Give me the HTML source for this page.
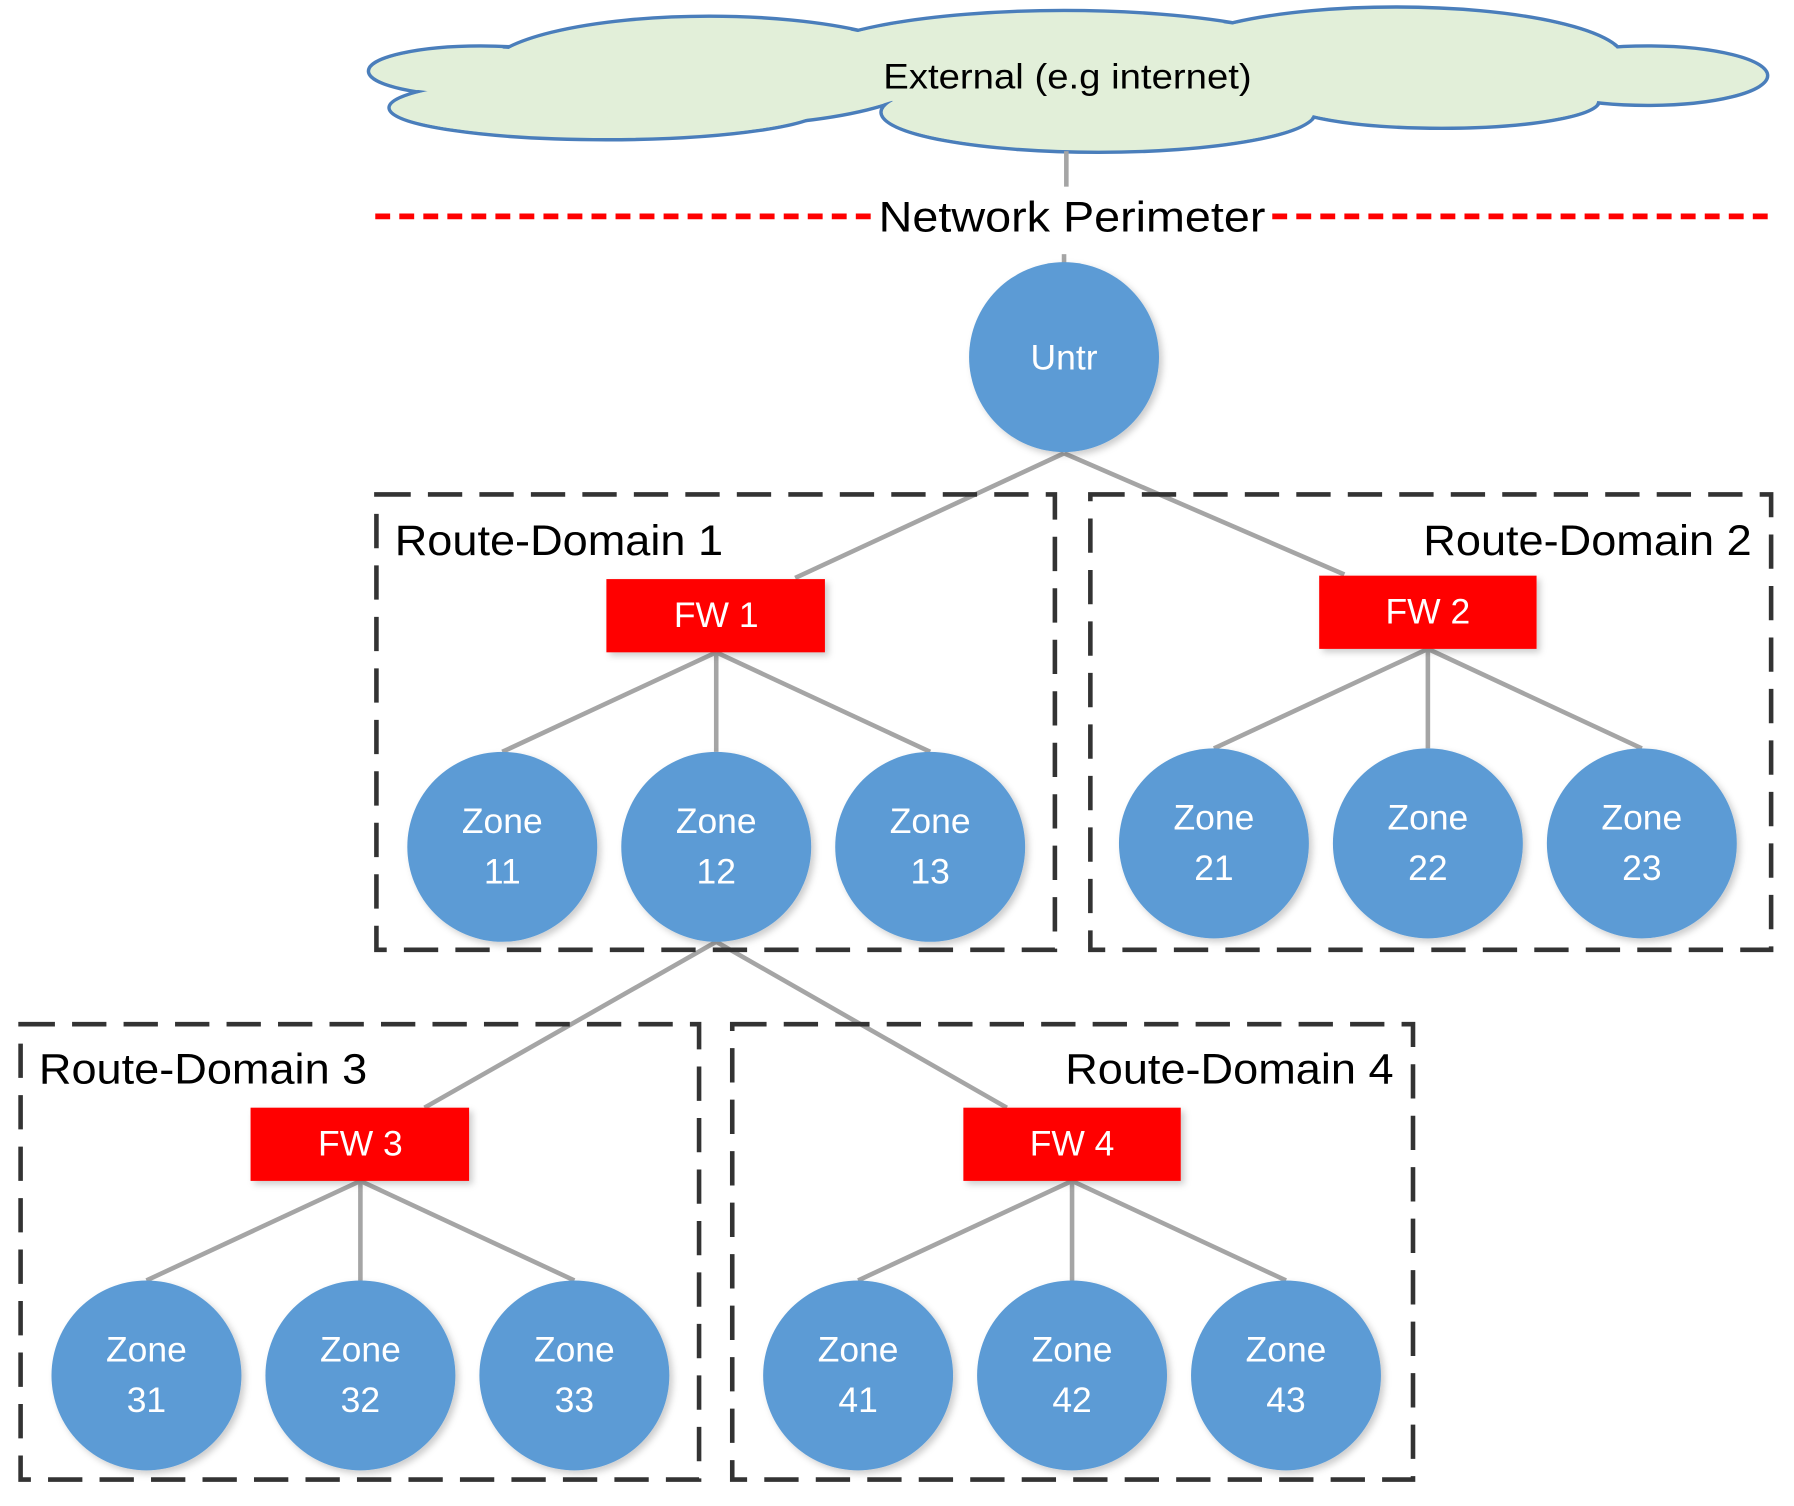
<!DOCTYPE html>
<html><head><meta charset="utf-8"><style>
html,body{margin:0;padding:0;background:#fff;}
svg{display:block;}
text{font-family:"Liberation Sans",sans-serif;}
</style></head><body>
<svg width="1794" height="1506" viewBox="0 0 1568 1316" xmlns="http://www.w3.org/2000/svg">
<defs>
<filter id="sh" x="-20%" y="-20%" width="140%" height="140%"><feDropShadow dx="3" dy="3" stdDeviation="3" flood-color="#000" flood-opacity="0.2"/></filter>
</defs>
<g stroke="#4a7ebb" stroke-width="3" fill="#e2efd9">
<ellipse cx="420" cy="62" rx="98" ry="22"/>
<ellipse cx="530" cy="94" rx="190" ry="28"/>
<ellipse cx="620" cy="62" rx="195" ry="48"/>
<ellipse cx="930" cy="55" rx="230" ry="46"/>
<ellipse cx="960" cy="98" rx="190" ry="35"/>
<ellipse cx="1220" cy="52" rx="200" ry="46"/>
<ellipse cx="1260" cy="88" rx="138" ry="24"/>
<ellipse cx="1440" cy="66" rx="105" ry="26"/>
</g>
<g fill="#e2efd9">
<ellipse cx="420" cy="62" rx="96" ry="20"/>
<ellipse cx="530" cy="94" rx="188" ry="26"/>
<ellipse cx="620" cy="62" rx="193" ry="46"/>
<ellipse cx="930" cy="55" rx="228" ry="44"/>
<ellipse cx="960" cy="98" rx="188" ry="33"/>
<ellipse cx="1220" cy="52" rx="198" ry="44"/>
<ellipse cx="1260" cy="88" rx="136" ry="22"/>
<ellipse cx="1440" cy="66" rx="103" ry="24"/>
</g>
<text x="772" y="77" font-size="31" textLength="322" lengthAdjust="spacingAndGlyphs" fill="#000">External (e.g internet)</text>
<line x1="328" y1="189" x2="764" y2="189" stroke="#f00" stroke-width="5" stroke-dasharray="13 8"/>
<line x1="1112" y1="189" x2="1548" y2="189" stroke="#f00" stroke-width="5" stroke-dasharray="13 8"/>
<text x="768" y="202" font-size="37" textLength="338" lengthAdjust="spacingAndGlyphs" fill="#000">Network Perimeter</text>
<g stroke="#a5a5a5" stroke-width="4" fill="none">
<line x1="932" y1="132" x2="932" y2="163"/>
<line x1="930" y1="222" x2="930" y2="256"/>
<line x1="930" y1="396" x2="695" y2="505"/>
<line x1="930" y1="396" x2="1175" y2="502"/>
<line x1="626" y1="570" x2="439" y2="657"/><line x1="626" y1="570" x2="626" y2="657"/><line x1="626" y1="570" x2="813" y2="657"/>
<line x1="1248" y1="567" x2="1061" y2="654"/><line x1="1248" y1="567" x2="1248" y2="654"/><line x1="1248" y1="567" x2="1435" y2="654"/>
<line x1="626" y1="823" x2="371" y2="968"/><line x1="626" y1="823" x2="880" y2="968"/>
<line x1="315" y1="1032" x2="128" y2="1119"/><line x1="315" y1="1032" x2="315" y2="1119"/><line x1="315" y1="1032" x2="502" y2="1119"/>
<line x1="937" y1="1032" x2="750" y2="1119"/><line x1="937" y1="1032" x2="937" y2="1119"/><line x1="937" y1="1032" x2="1124" y2="1119"/>
</g>
<g stroke="#333" stroke-width="4" fill="none" stroke-dasharray="30 15">
<rect x="329" y="432" width="593" height="398"/>
<rect x="953" y="432" width="595" height="398"/>
<rect x="18" y="895" width="593" height="398"/>
<rect x="640" y="895" width="595" height="398"/>
</g>
<g font-size="37" fill="#000">
<text x="345" y="485" textLength="287" lengthAdjust="spacingAndGlyphs">Route-Domain 1</text>
<text x="1244" y="485" textLength="287" lengthAdjust="spacingAndGlyphs">Route-Domain 2</text>
<text x="34" y="947" textLength="287" lengthAdjust="spacingAndGlyphs">Route-Domain 3</text>
<text x="931" y="947" textLength="287" lengthAdjust="spacingAndGlyphs">Route-Domain 4</text>
</g>
<g fill="#f00" filter="url(#sh)">
<rect x="530" y="506" width="191" height="64"/>
<rect x="1153" y="503" width="190" height="64"/>
<rect x="219" y="968" width="191" height="64"/>
<rect x="842" y="968" width="190" height="64"/>
</g>
<g font-size="31" fill="#fff" text-anchor="middle">
<text x="626" y="548">FW 1</text>
<text x="1248" y="545">FW 2</text>
<text x="315" y="1010">FW 3</text>
<text x="937" y="1010">FW 4</text>
</g>
<g fill="#5b9bd5" filter="url(#sh)">
<circle cx="930" cy="312" r="83"/>
<circle cx="439" cy="740" r="83"/><circle cx="626" cy="740" r="83"/><circle cx="813" cy="740" r="83"/>
<circle cx="1061" cy="737" r="83"/><circle cx="1248" cy="737" r="83"/><circle cx="1435" cy="737" r="83"/>
<circle cx="128" cy="1202" r="83"/><circle cx="315" cy="1202" r="83"/><circle cx="502" cy="1202" r="83"/>
<circle cx="750" cy="1202" r="83"/><circle cx="937" cy="1202" r="83"/><circle cx="1124" cy="1202" r="83"/>
</g>
<g font-size="31" fill="#fff" text-anchor="middle">
<text x="930" y="323">Untr</text>
<text x="439" y="728">Zone</text><text x="439" y="772">11</text>
<text x="626" y="728">Zone</text><text x="626" y="772">12</text>
<text x="813" y="728">Zone</text><text x="813" y="772">13</text>
<text x="1061" y="725">Zone</text><text x="1061" y="769">21</text>
<text x="1248" y="725">Zone</text><text x="1248" y="769">22</text>
<text x="1435" y="725">Zone</text><text x="1435" y="769">23</text>
<text x="128" y="1190">Zone</text><text x="128" y="1234">31</text>
<text x="315" y="1190">Zone</text><text x="315" y="1234">32</text>
<text x="502" y="1190">Zone</text><text x="502" y="1234">33</text>
<text x="750" y="1190">Zone</text><text x="750" y="1234">41</text>
<text x="937" y="1190">Zone</text><text x="937" y="1234">42</text>
<text x="1124" y="1190">Zone</text><text x="1124" y="1234">43</text>
</g>
</svg>
</body></html>
